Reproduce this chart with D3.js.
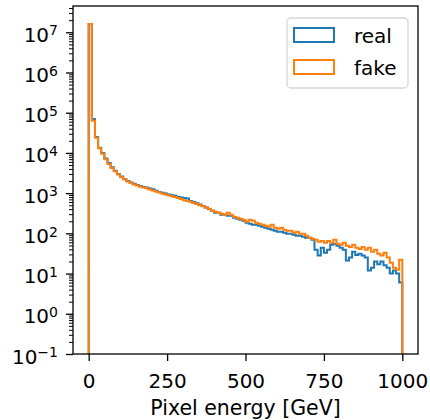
<!DOCTYPE html>
<html>
<head>
<meta charset="utf-8">
<script src="https://cdn.jsdelivr.net/npm/d3@7"></script>
<style>
  body { margin: 0; background: #fff; }
  svg { font-family: "DejaVu Sans", sans-serif; }
</style>
</head>
<body>
<svg id="chart" width="430" height="420"></svg>
<script>
// histogram bins: 100 bins of 10 GeV between 0 and 1000
var binEdges = d3.range(0, 1001, 10);

var real = [
  1.6e7, 7.0e4, 2.5e4, 1.35e4, 1.0e4, 7300, 5600, 4400, 3600, 3000,
  2600, 2250, 2000, 1850, 1700, 1600, 1500, 1420, 1380, 1300,
  1250, 1150, 1070, 1020, 980, 930, 880, 860, 800, 780,
  760, 740, 640, 600, 560, 520, 480, 440, 400, 365,
  325, 325, 290, 290, 274, 274, 244, 230, 218, 205,
  184, 173, 164, 164, 155, 146, 138, 130, 123, 116,
  110, 110, 103, 98, 98, 92, 87, 87, 82, 78,
  78, 69, 39, 28, 44, 33, 39, 52, 55, 49,
  44, 39, 21, 25, 35, 29, 31, 28, 25, 12,
  14, 20, 17, 20, 16, 14, 10, 12, 10, 6
];

var fake = [
  1.6e7, 6.3e4, 2.4e4, 1.3e4, 9500, 7000, 5300, 4200, 3500, 2900,
  2500, 2200, 1950, 1800, 1650, 1550, 1450, 1380, 1320, 1240,
  1170, 1100, 1040, 980, 930, 880, 840, 800, 760, 710,
  670, 640, 610, 570, 540, 500, 470, 440, 410, 365,
  344, 325, 307, 290, 325, 290, 259, 244, 230, 218,
  194, 218, 205, 184, 173, 164, 155, 146, 164, 138,
  130, 138, 123, 116, 116, 103, 110, 98, 98, 87,
  78, 73, 69, 62, 65, 58, 65, 58, 69, 55,
  52, 58, 49, 46, 52, 44, 41, 46, 39, 44,
  35, 39, 31, 28, 33, 25, 18.5, 14, 12.4, 22
];

var seriesNames = ["real", "fake"];
var seriesColors = ["#1f77b4", "#ff7f0e"];
var xTicks = [0, 250, 500, 750, 1000];
var yExponents = [-1, 0, 1, 2, 3, 4, 5, 6, 7];

var margin = {top: 6, right: 12, bottom: 66, left: 73},
  width = 430 - margin.left - margin.right,
  height = 420 - margin.top - margin.bottom;

var svg = d3.select("#chart")
  .append("g")
  .attr("transform", "translate(" + margin.left + "," + margin.top + ")");

var x = d3.scaleLinear().domain([-50, 1050]).range([0, width]);
var y = d3.scaleLog().domain([1e-1, 4.5e7]).range([height, 0]);

// minor ticks 2..9 for each decade
var yMinor = [];
for (var e = -1; e <= 7; e++) {
  for (var m = 2; m <= 9; m++) {
    var v = m * Math.pow(10, e);
    if (v < y.domain()[1]) yMinor.push(v);
  }
}

svg.append("clipPath").attr("id", "plotClip")
  .append("rect").attr("width", width).attr("height", height);

// step outline like matplotlib histtype='step'
function stepPoints(counts) {
  var pts = [[binEdges[0], 1e-3]];
  counts.forEach(function(c, i) {
    pts.push([binEdges[i], c]);
    pts.push([binEdges[i + 1], c]);
  });
  pts.push([binEdges[binEdges.length - 1], 1e-3]);
  return pts;
}

var line = d3.line()
  .x(function(d) { return x(d[0]); })
  .y(function(d) { return Math.min(y(d[1]), height + 10); });

[real, fake].forEach(function(counts, i) {
  svg.append("path")
    .datum(stepPoints(counts))
    .attr("clip-path", "url(#plotClip)")
    .attr("fill", "none")
    .attr("stroke", seriesColors[i])
    .attr("stroke-width", 2)
    .attr("stroke-linejoin", "miter")
    .attr("d", line);
});

// x axis
var xAxis = svg.append("g")
  .attr("transform", "translate(0," + height + ")")
  .call(d3.axisBottom(x).tickValues(xTicks).tickFormat(d3.format("d"))
    .tickSize(7).tickPadding(13));
xAxis.select(".domain").remove();
xAxis.selectAll("text").attr("font-size", 20).attr("fill", "#000")
  .attr("font-family", "DejaVu Sans");
xAxis.selectAll("line").attr("stroke-width", 1.3);

// y axis, minor then major
var yMinorAxis = svg.append("g")
  .call(d3.axisLeft(y).tickValues(yMinor).tickSize(4).tickFormat(""));
yMinorAxis.select(".domain").remove();
yMinorAxis.selectAll("line").attr("stroke-width", 1);

var yMajor = yExponents.map(function(e) { return Math.pow(10, e); });
var yAxis = svg.append("g")
  .call(d3.axisLeft(y).tickValues(yMajor).tickSize(7).tickPadding(8));
yAxis.select(".domain").remove();
yAxis.selectAll("line").attr("stroke-width", 1.3);
yAxis.selectAll("text")
  .attr("font-size", 20)
  .attr("font-family", "DejaVu Sans")
  .attr("fill", "#000")
  .attr("dy", "0.45em")
  .each(function(d, i) {
    var t = d3.select(this).text("10");
    t.append("tspan")
      .attr("font-size", 14)
      .attr("dy", "-0.45em")
      .text(yExponents[i] < 0 ? "\u2212" + Math.abs(yExponents[i]) : yExponents[i]);
  });

// frame
svg.append("rect")
  .attr("width", width).attr("height", height)
  .attr("fill", "none").attr("stroke", "#000").attr("stroke-width", 1.3);

svg.append("text")
  .attr("x", width / 2).attr("y", 409)
  .attr("text-anchor", "middle")
  .attr("font-size", 20.5)
  .text("Pixel energy [GeV]");

// legend
var legend = svg.append("g").attr("transform", "translate(" + (287 - margin.left) + "," + (18 - margin.top) + ")");
legend.append("rect")
  .attr("width", 121).attr("height", 70).attr("rx", 4)
  .attr("fill", "#fff").attr("fill-opacity", 0.8)
  .attr("stroke", "#d6d6d6").attr("stroke-width", 1.3);
seriesNames.forEach(function(name, i) {
  legend.append("rect")
    .attr("x", 7).attr("y", 10 + i * 32)
    .attr("width", 40).attr("height", 14)
    .attr("fill", "none").attr("stroke", seriesColors[i]).attr("stroke-width", 2);
  legend.append("text")
    .attr("x", 67).attr("y", 25 + i * 32)
    .attr("font-size", 20)
    .text(name);
});
</script>
</body>
</html>
